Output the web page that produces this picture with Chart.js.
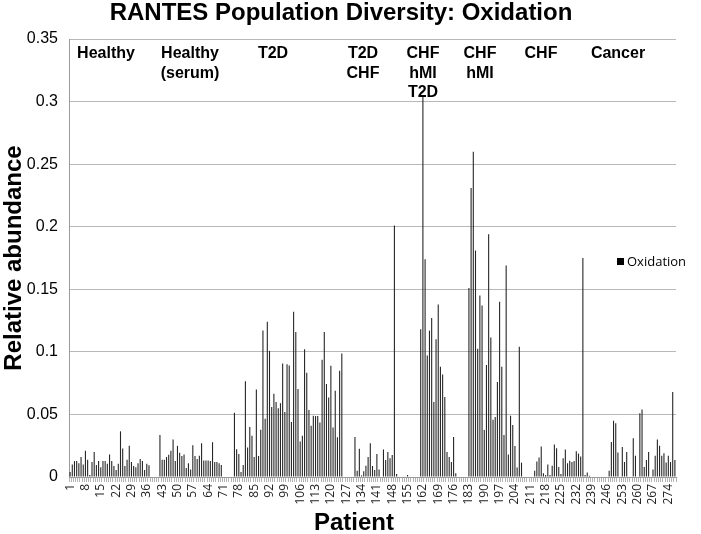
<!DOCTYPE html>
<html><head><meta charset="utf-8">
<script src="https://cdn.jsdelivr.net/npm/chart.js@4/dist/chart.umd.min.js"></script>
<style>html,body{margin:0;padding:0;background:#fff}#wrap{width:701px;height:534px;position:relative}</style>
</head><body><div id="wrap"><canvas id="c" width="701" height="534"></canvas></div>
<script>
// Relative abundance of oxidation per patient, grouped by cohort (gaps = empty patient slots)
const healthy = [0.004,0.010,0.0127,0.0127,0.011,0.016,0.010,0.021,0.0138,0.0016,0.012,0.020,0.0095,0.0127,0.0077,0.0127,0.0127,0.0106,0.018,0.0127,0.0087,0.0056,0.0106,0.0365,0.0228,0.0087,0.0138,0.0249,0.012,0.0087,0.0077,0.011,0.0143,0.0127,0.0056,0.0106,0.0093];
const gapA = [0,0,0,0];
const healthySerum = [0.0336,0.0138,0.0138,0.016,0.0177,0.021,0.030,0.0127,0.0249,0.0193,0.0167,0.018,0.0071,0.011,0.006,0.0254,0.0167,0.0143,0.017,0.027,0.0132,0.0132,0.0132,0.0127,0.0278,0.012,0.012,0.011,0.0095];
const gapB = [0,0,0,0,0];
const t2d = [0.0513,0.0222,0.0184,0.004,0.0096,0.0765,0.0235,0.040,0.033,0.016,0.070,0.0168,0.0377,0.117,0.0465,0.124,0.1008,0.056,0.0666,0.060,0.055,0.059,0.0906,0.052,0.090,0.089,0.044,0.132,0.1158,0.0703,0.0283,0.033,0.102,0.0834,0.0535,0.041,0.049,0.0487,0.0487,0.0436,0.0936,0.1158,0.0743,0.0636,0.0888,0.0396,0.069,0.0318,0.085,0.0987];
const gapC = [0,0,0,0,0];
const t2dChf = [0.032,0.005,0.0225,0.0013,0.0045,0.009,0.016,0.027,0.0088,0.0056,0.0184,0.006,0,0.022,0.0136,0.020,0.015,0.0176,0.201,0.0024,0,0,0,0,0.0016];
const gapD = [0,0,0,0,0];
const chfHmiT2d = [0.118,0.305,0.174,0.097,0.117,0.127,0.060,0.110,0.1378,0.088,0.082,0.064,0.020,0.016,0.012,0.032,0.003];
const gapE = [0,0,0,0,0];
const chfHmi = [0.151,0.231,0.260,0.181,0.1025,0.145,0.137,0.0376,0.0895,0.194,0.1115,0.0457,0.048,0.076,0.140,0.088,0.0336,0.169,0.018,0.0489,0.0415,0.0248,0.0075,0.104,0.0115];
const gapF = [0,0,0,0,0];
const chf = [0.005,0.0123,0.0155,0.0243,0.003,0.0016,0.010,0.0016,0.009,0.026,0.023,0.008,0.0024,0.015,0.022,0.011,0.013,0.012,0.0128,0.0205,0.0187,0.0163,0.175,0.0016,0.0035,0.001];
const gapG = [0,0,0,0,0,0,0,0];
const cancer = [0.005,0.028,0.045,0.043,0.0195,0,0.024,0.012,0.020,0,0,0.031,0.017,0,0.051,0.054,0.008,0.0136,0.020,0,0.006,0.017,0.030,0.025,0.017,0.019,0.0115,0.017,0.012,0.068,0.0136];

const oxidation = [].concat(healthy, gapA, healthySerum, gapB, t2d, gapC, t2dChf, gapD, chfHmiT2d, gapE, chfHmi, gapF, chf, gapG, cancer);
const patients = oxidation.map((_, i) => i + 1);
const tickLabels = [1,8,15,22,29,36,43,50,57,64,71,78,85,92,99,106,113,120,127,134,141,148,155,162,169,176,183,190,197,204,211,218,225,232,239,246,253,260,267,274];
const yTicks = [0,0.05,0.1,0.15,0.2,0.25,0.3,0.35];

const groupNames = [["Healthy"],["Healthy","(serum)"],["T2D"],["T2D","CHF"],["CHF","hMI","T2D"],["CHF","hMI"],["CHF"],["Cancer"]];
const groupX = [106,190,273,363,423,480,541,618];

const titleText = "RANTES Population Diversity: Oxidation";
const xTitle = "Patient";
const yTitle = "Relative abundance";
const seriesName = "Oxidation";

const textPlugin = {
  id: 'texts',
  afterDraw(chart) {
    const ctx = chart.ctx;
    ctx.save();
    ctx.fillStyle = '#000';
    ctx.textAlign = 'center';
    ctx.textBaseline = 'middle';
    ctx.font = 'bold 24px "Liberation Sans", Arial, sans-serif';
    ctx.fillText(titleText, 341, 13);
    ctx.fillText(xTitle, 354, 523);
    ctx.font = 'bold 16px "Liberation Sans", Arial, sans-serif';
    groupNames.forEach((lines, g) => {
      lines.forEach((t, k) => ctx.fillText(t, groupX[g], 54 + k * 19.5));
    });
    // legend
    ctx.fillRect(617, 258, 7, 7);
    ctx.textAlign = 'left';
    ctx.font = '13px "Open Sans", sans-serif';
    ctx.fillText(seriesName, 627, 262);
    ctx.restore();
  }
};

new Chart(document.getElementById('c').getContext('2d'), {
  type: 'bar',
  data: {
    labels: patients,
    datasets: [{
      label: seriesName,
      data: oxidation,
      backgroundColor: '#262626',
      barPercentage: 0.5,
      categoryPercentage: 1.0
    }]
  },
  options: {
    responsive: false,
    animation: false,
    devicePixelRatio: 1,
    layout: { padding: { left: 0, right: 25, top: 39, bottom: 0 } },
    plugins: { legend: { display: false }, title: { display: false }, tooltip: { enabled: false } },
    scales: {
      x: {
        grid: { display: true, drawOnChartArea: false, drawTicks: true, tickLength: 5, color: '#b4b4b4' },
        border: { color: '#9a9a9a' },
        ticks: {
          autoSkip: false, minRotation: 90, maxRotation: 90, padding: 2,
          font: { family: 'Open Sans', size: 12 }, color: '#222',
          callback: function(v, i) { return tickLabels.includes(patients[i]) ? String(patients[i]) : ''; }
        },
        afterFit: s => { s.height = 57; }
      },
      y: {
        min: 0, max: 0.35,
        afterBuildTicks: s => { s.ticks = yTicks.map(v => ({ value: v })); },
        ticks: {
          padding: 11, color: '#000',
          font: { family: 'Liberation Sans', size: 16 },
          callback: v => String(Number(v.toFixed(2)))
        },
        grid: { color: '#b8b8b8', drawTicks: false },
        border: { color: '#9a9a9a' },
        title: { display: true, text: yTitle, color: '#000', font: { family: 'Liberation Sans', size: 24, weight: 'bold' }, padding: { top: 0, bottom: 0 } },
        afterFit: s => { s.width = 69; }
      }
    }
  },
  plugins: [textPlugin]
});
</script>
</body></html>
